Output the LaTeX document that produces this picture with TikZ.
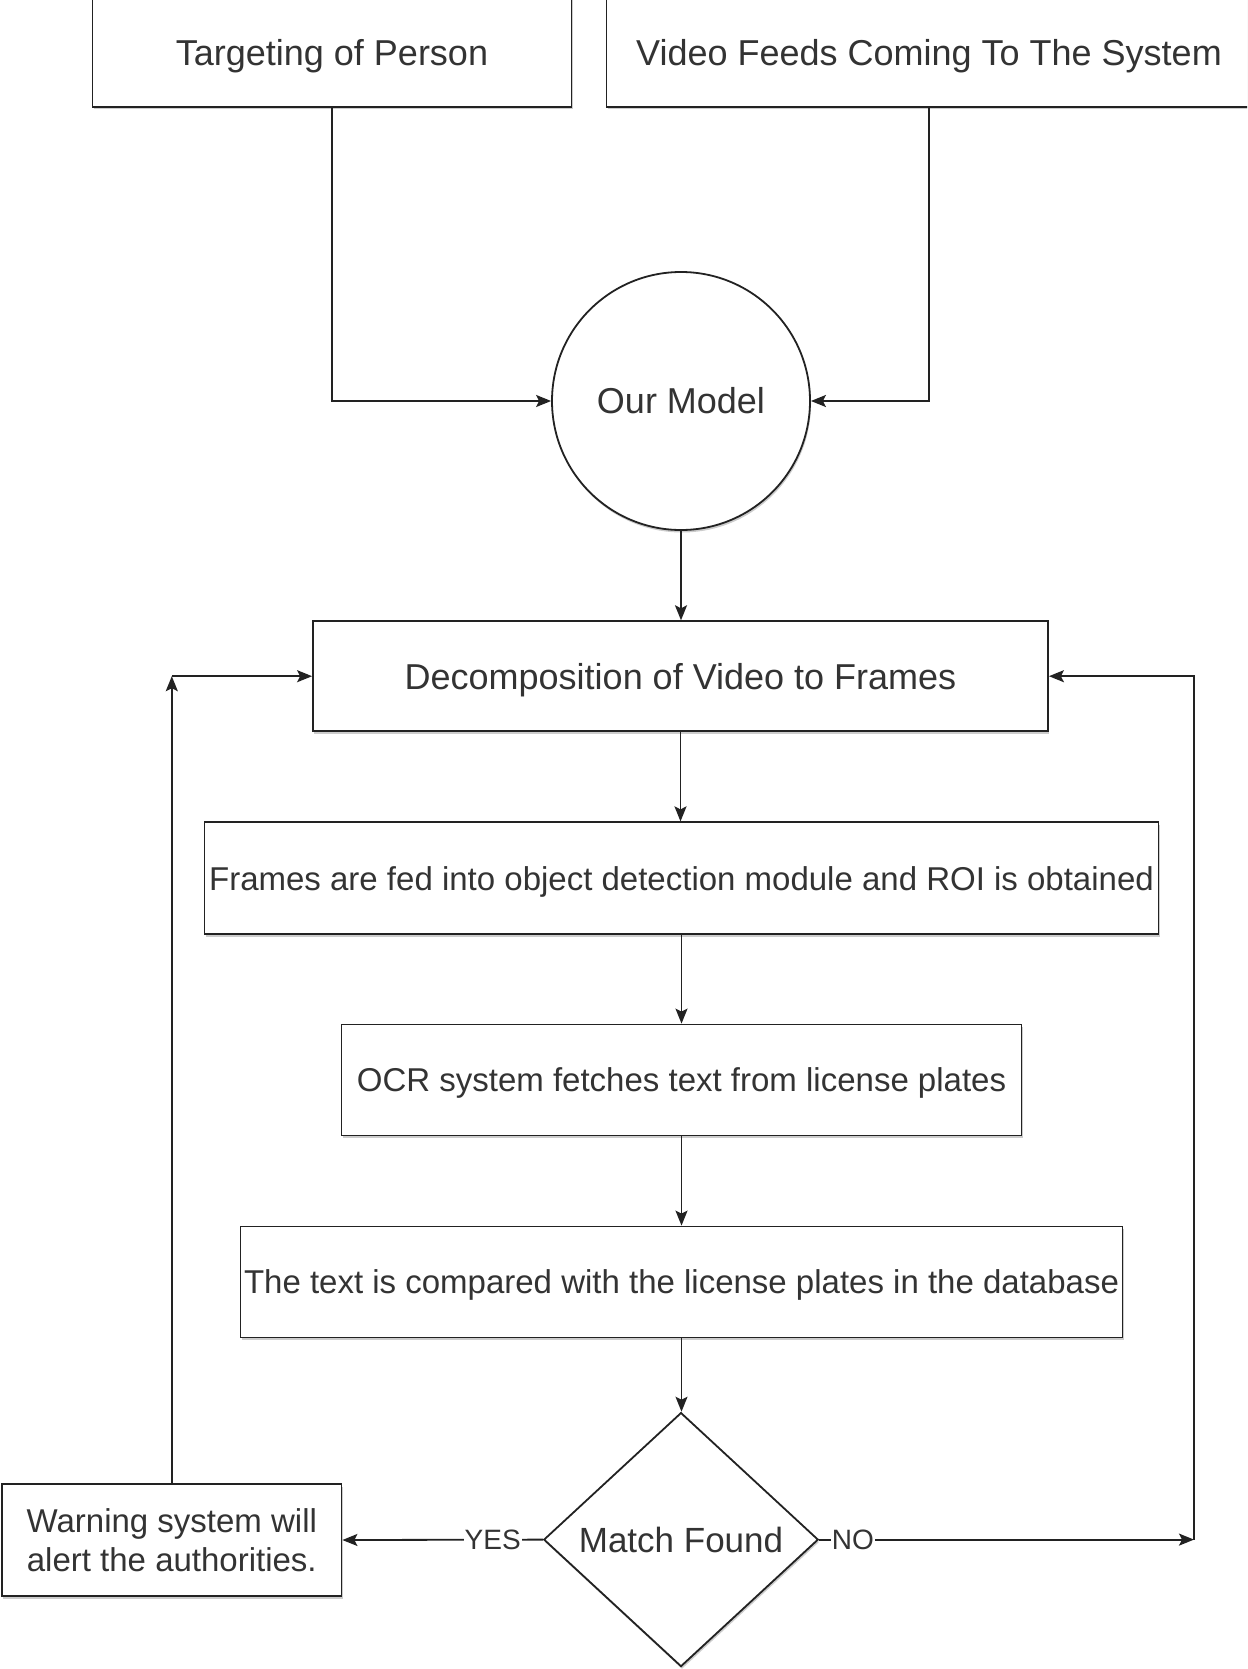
\documentclass[tikz,border=0pt]{standalone}
\usepackage{fontspec}
\setmainfont{Liberation Sans}
\usetikzlibrary{shapes.geometric,arrows.meta,shadows}
\definecolor{txt}{HTML}{333333}
\definecolor{ln}{HTML}{222222}
\tikzset{
  box/.style={draw=ln, line width=1.8pt, rectangle, fill=white, inner sep=0pt, text=txt, align=center,
    drop shadow={shadow xshift=1pt, shadow yshift=-2.5pt, fill=black, opacity=0.2}},
  arr/.style={draw=ln, line width=1.8pt, -{Stealth[length=15pt,width=12pt,inset=3pt]}},
  lbl/.style={fill=white, inner sep=1pt, text=txt, font=\fontsize{28}{32}\selectfont},
  big/.style={font=\fontsize{36}{42}\selectfont, text height=25.8pt, text depth=0pt},
  small/.style={font=\fontsize{33}{39}\selectfont, text height=23.6pt, text depth=0pt},
  twoline/.style={font=\fontsize{33}{39}\selectfont},
}
\begin{document}
\begin{tikzpicture}[x=1pt,y=1pt]
\useasboundingbox (0,0) rectangle (1247,-1669);
\clip (0,0) rectangle (1247,-1669);
\node[box, big, minimum width=479, minimum height=109] (tgt) at (332,-52.5) {Targeting of Person};
\node[box, big, minimum width=645, minimum height=109] (vid) at (929,-52.5) {Video Feeds Coming To The System};
\node[box, big, circle, minimum size=258] (model) at (681,-401) {Our Model};
\node[box, big, minimum width=735, minimum height=110] (dec) at (680.5,-676.2) {Decomposition of Video to Frames};
\node[box, small, minimum width=954, minimum height=112] (frm) at (681.5,-878.3) {Frames are fed into object detection module and ROI is obtained};
\node[box, small, minimum width=680, minimum height=111] (ocr) at (681.5,-1080) {OCR system fetches text from license plates};
\node[box, small, minimum width=882, minimum height=111] (cmp) at (681.5,-1282) {The text is compared with the license plates in the database};
\node[box, diamond, font=\fontsize{35}{40}\selectfont, minimum width=274.5, minimum height=254] (dia) at (681,-1539.6) {Match Found};
\node[box, twoline, minimum width=339.4, minimum height=112] (warn) at (171.8,-1540) {Warning system will\\alert the authorities.};
\coordinate (lp) at (warn.north |- dec.west);
\coordinate (rp) at (1194,-1539.6);
\draw[arr] (tgt.south) |- (model.west);
\draw[arr] (vid.south) |- (model.east);
\draw[arr] (model.south) -- (model.south |- dec.north);
\draw[arr] (dec.south) -- (dec.south |- frm.north);
\draw[arr] (frm.south) -- (frm.south |- ocr.north);
\draw[arr] (ocr.south) -- (ocr.south |- cmp.north);
\draw[arr] (cmp.south) -- (cmp.south |- dia.north);
\draw[arr] (dia.west) -- node[lbl, pos=0.25] (yes) {YES} (warn.east);
\draw[arr] (dia.east) -- node[lbl, pos=0.09] (no) {NO} (rp);
\draw[arr] (warn.north) -- (lp);
\draw[arr] (lp) -- (dec.west);
\draw[arr] (rp) |- (dec.east);
\end{tikzpicture}
\end{document}
